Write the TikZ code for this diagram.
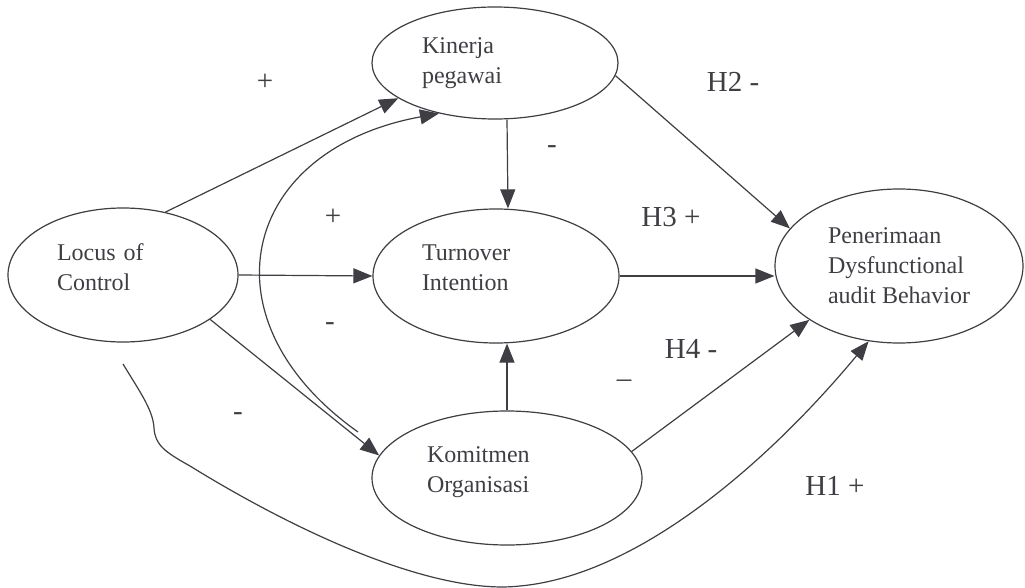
\documentclass[tikz,border=0pt]{standalone}
\usepackage{fontspec}
\setmainfont{Liberation Serif}
\usetikzlibrary{shapes.geometric,arrows.meta}
\definecolor{ink}{RGB}{62,62,68}
\newcommand{\lift}{\rule[-16pt]{0pt}{16pt}}
\begin{document}
\begin{tikzpicture}[x=1pt,y=-1pt,ink,line width=1.2pt,
    var/.style={draw,ellipse,inner sep=0pt,align=left,font=\fontsize{24}{30}\selectfont},
    sign/.style={font=\fontsize{29}{34}\selectfont},
    arr/.style={-{Triangle[length=19pt,width=15pt]}}]
  \useasboundingbox (0,0) rectangle (1025,588);
  \node[var,minimum width=230pt,minimum height=134pt,text width=132pt] (loc) at (123,275) {Locus of\\Control\lift};
  \node[var,minimum width=246pt,minimum height=112pt,text width=146pt] (kin) at (495,63) {Kinerja\\pegawai};
  \node[var,minimum width=246pt,minimum height=134pt,text width=148pt] (tur) at (496,276) {Turnover\\Intention\lift};
  \node[var,minimum width=270pt,minimum height=134pt,text width=160pt] (kom) at (507,478) {Komitmen\\Organisasi\lift};
  \node[var,minimum width=248pt,minimum height=154pt] (pen) at (899,266) {Penerimaan\\Dysfunctional\\audit Behavior};
  \coordinate (back) at (358,432);
  \coordinate (hone) at (123,364);
  \draw[arr] (loc.56) -- (kin.200);
  \draw[arr] (loc.east) -- (tur.west);
  \draw[arr] (loc.-27) -- (kom.170);
  \draw[arr] ([xshift=12pt]kin.south) -- ([xshift=12pt]tur.north);
  \draw[arr] (kom.north) -- ([xshift=11pt]tur.south);
  \draw[arr] (kin.-6) -- (pen.161);
  \draw[arr] (tur.east) -- (tur.east -| pen.west);
  \draw[arr] (kom.12) -- (pen.211);
  \draw[arr] (back) .. controls (200,320) and (240,150) .. (kin.222);
  \draw[arr] (hone) .. controls (140,392) and (153,410) .. (154,428)
    .. controls (155,445) and (165,452) .. (190,466)
    .. controls (310,540) and (440,595) .. (520,586)
    .. controls (640,575) and (770,460) .. (pen.248);
  \node[sign] (pa) at (265,82) {+};
  \node[sign] (pb) at (333,217) {+};
  \node[sign] (ma) at (552,150) {-};
  \node[sign] (mb) at (330,327) {-};
  \node[sign] (mc) at (238,417) {-};
  \node[sign] (md) at (624,384) {--};
  \node[sign] (htwo) at (733,82) {H2 -};
  \node[sign] (hthree) at (671,217) {H3 +};
  \node[sign] (hfour) at (691,349) {H4 -};
  \node[sign] (hlone) at (835,486) {H1 +};
\end{tikzpicture}
\end{document}
